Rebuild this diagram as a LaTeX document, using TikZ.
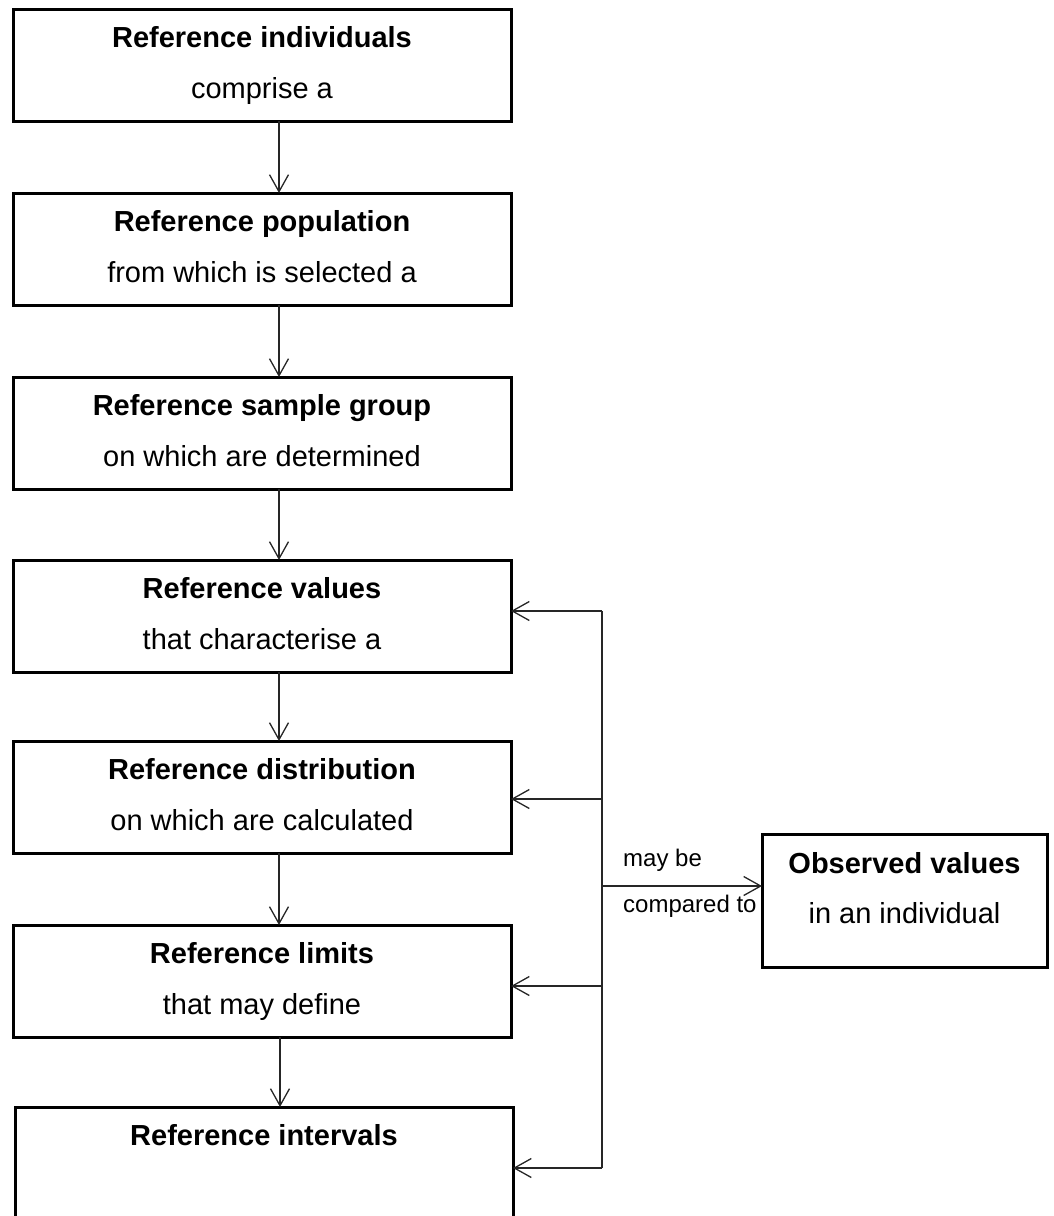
\documentclass[tikz,border=0pt]{standalone}
\usepackage{fontspec}
\setmainfont{Liberation Sans}
\usetikzlibrary{arrows.meta,calc}

\tikzset{
  stage/.style={draw=black, line width=3pt, fill=none, minimum width=498pt,
    minimum height=112pt, inner sep=0pt, outer sep=0pt, anchor=north west},
  head/.style={font=\fontsize{29}{35}\selectfont\bfseries, inner sep=0pt, anchor=base},
  sub/.style={font=\fontsize{29}{35}\selectfont, inner sep=0pt, anchor=base},
  note/.style={font=\fontsize{24}{29}\selectfont, inner sep=0pt, anchor=base west},
  wire/.style={draw=black!85, line width=1.3pt},
  link/.style={wire, -{Straight Barb[length=17pt,width=19pt]}},
}

\begin{document}
\begin{tikzpicture}[x=1pt,y=-1pt]
\useasboundingbox (0,0) rectangle (1053,1216);
\clip (0,0) rectangle (1053,1216);

% main chain of stages
\node[stage] (ind)  at (13,9)    {};
\node[stage] (pop)  at (13,193)  {};
\node[stage] (samp) at (13,377)  {};
\node[stage] (vals) at (13,560)  {};
\node[stage] (dist) at (13,741)  {};
\node[stage] (lims) at (13,925)  {};
\node[stage] (ints) at (15,1107) {};
\node[stage, minimum width=285pt, minimum height=133pt] (obs) at (762,834) {};

% stage texts
\node[head] (ind-h)  at ($(ind.north)+(0,38)$)  {Reference individuals};
\node[sub]  (ind-s)  at ($(ind.north)+(0,89)$)  {comprise a};
\node[head] (pop-h)  at ($(pop.north)+(0,38)$)  {Reference population};
\node[sub]  (pop-s)  at ($(pop.north)+(0,89)$)  {from which is selected a};
\node[head] (samp-h) at ($(samp.north)+(0,38)$) {Reference sample group};
\node[sub]  (samp-s) at ($(samp.north)+(0,89)$) {on which are determined};
\node[head] (vals-h) at ($(vals.north)+(0,38)$) {Reference values};
\node[sub]  (vals-s) at ($(vals.north)+(0,89)$) {that characterise a};
\node[head] (dist-h) at ($(dist.north)+(0,38)$) {Reference distribution};
\node[sub]  (dist-s) at ($(dist.north)+(0,89)$) {on which are calculated};
\node[head] (lims-h) at ($(lims.north)+(0,38)$) {Reference limits};
\node[sub]  (lims-s) at ($(lims.north)+(0,89)$) {that may define};
\node[head] (ints-h) at ($(ints.north)+(0,38)$) {Reference intervals};
\node[head] (obs-h)  at ($(obs.north)+(0,39)$)  {Observed values};
\node[sub]  (obs-s)  at ($(obs.north)+(0,89)$)  {in an individual};

% downward arrows between stages
\coordinate (ax) at (279,0);
\draw[link] (ind.south  -| ax) -- (pop.north  -| ax);
\draw[link] (pop.south  -| ax) -- (samp.north -| ax);
\draw[link] (samp.south -| ax) -- (vals.north -| ax);
\draw[link] (vals.south -| ax) -- (dist.north -| ax);
\draw[link] (dist.south -| ax) -- (lims.north -| ax);
\coordinate (bx) at (280,0);
\draw[link] (lims.south -| bx) -- (ints.north -| bx);

% comparison bus on the right
\coordinate (fb-v) at (602,611);
\coordinate (fb-d) at (602,799);
\coordinate (fb-l) at (602,986);
\coordinate (fb-i) at (602,1168);
\coordinate (tap)  at (602,886);
\draw[wire] (fb-v) -- (fb-i);
\draw[link] (fb-v) -- (fb-v -| vals.east);
\draw[link] (fb-d) -- (fb-d -| dist.east);
\draw[link] (fb-l) -- (fb-l -| lims.east);
\draw[link] (fb-i) -- (fb-i -| ints.east);
\draw[link] (tap)  -- (tap -| obs.west);

\node[note] (maybe) at (623,866) {may be};
\node[note] (cmpto) at (623,912) {compared to};
\end{tikzpicture}
\end{document}
